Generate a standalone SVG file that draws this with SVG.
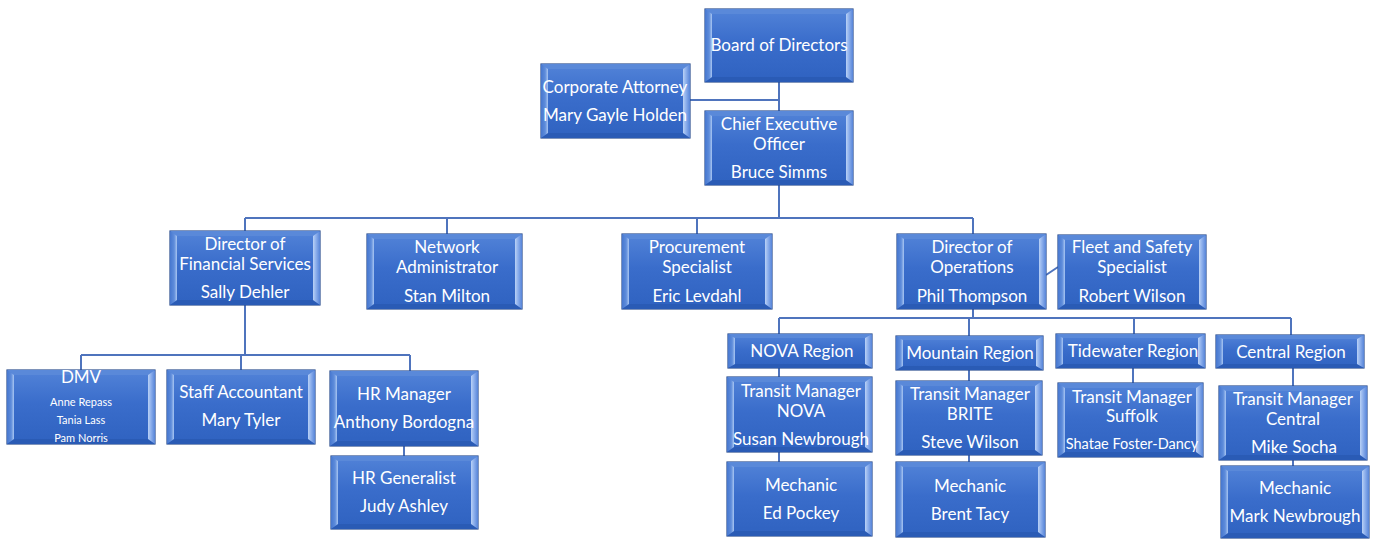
<svg xmlns="http://www.w3.org/2000/svg" width="1379" height="539" viewBox="0 0 1379 539">
<defs>
<linearGradient id="g" x1="0" y1="0" x2="0" y2="1">
<stop offset="0" stop-color="#5283d8"/>
<stop offset="0.45" stop-color="#3a6dcb"/>
<stop offset="1" stop-color="#2f62c0"/>
</linearGradient>
<linearGradient id="gl" x1="0" y1="0" x2="1" y2="0">
<stop offset="0" stop-color="#4677cf"/>
<stop offset="0.6" stop-color="#5f8ddb"/>
<stop offset="1" stop-color="#a9c6f2"/>
</linearGradient>
<linearGradient id="gr" x1="0" y1="0" x2="1" y2="0">
<stop offset="0" stop-color="#b9d1f6"/>
<stop offset="0.5" stop-color="#86aaea"/>
<stop offset="1" stop-color="#5684d8"/>
</linearGradient>
</defs>
<style>
.box{fill:url(#g);stroke:#2a4d8e;stroke-width:1.2}
.bt{fill:#5a89d9}
.bb{fill:#2a5bb5}
.bl{fill:url(#gl)}
.br{fill:url(#gr)}
text{font-family:Lato,"Liberation Sans",sans-serif;font-size:17px;fill:#ffffff;text-anchor:middle}
.s{font-size:11px}
.m{font-size:14.5px}
.c{fill:none;stroke:#4f74bd;stroke-width:2}
</style>
<g id="connectors">
<path class="c" d="M779 82V111M690 100H779"/>
<path class="c" d="M779 185V218M245 218H973M245 218V231M447 218V234M697 218V234M973 218V234"/>
<path class="c" d="M1046 275L1058 267"/>
<path class="c" d="M245 305V355M81 355H410M81 355V370M241 355V370M410 355V371M404 446V456"/>
<path class="c" d="M973 309V318M779 318H1291M779 318V334M969 318V336M1134 318V334M1291 318V335"/>
<path class="c" d="M779 368V377M779 452V462M969 370V381M969 455V462M1133 368V383M1293 368V386M1293 460V466"/>
</g>
<g id="board"><rect class="box" x="705" y="9" width="148" height="73"/><polygon class="bt" points="705,9 853,9 846,14 712,14"/><polygon class="bb" points="705,82 853,82 846,77 712,77"/><polygon class="bl" points="705,9 712,14 712,77 705,82"/><polygon class="br" points="853,9 846,14 846,77 853,82"/><text x="779" y="51">Board of Directors</text></g>
<g id="attorney"><rect class="box" x="541" y="64" width="149" height="74"/><polygon class="bt" points="541,64 690,64 683,69 548,69"/><polygon class="bb" points="541,138 690,138 683,133 548,133"/><polygon class="bl" points="541,64 548,69 548,133 541,138"/><polygon class="br" points="690,64 683,69 683,133 690,138"/><text x="615" y="93">Corporate Attorney</text><text x="615" y="121">Mary Gayle Holden</text></g>
<g id="ceo"><rect class="box" x="705" y="111" width="148" height="74"/><polygon class="bt" points="705,111 853,111 846,116 712,116"/><polygon class="bb" points="705,185 853,185 846,180 712,180"/><polygon class="bl" points="705,111 712,116 712,180 705,185"/><polygon class="br" points="853,111 846,116 846,180 853,185"/><text x="779" y="130">Chief Executive</text><text x="779" y="150">Officer</text><text x="779" y="178">Bruce Simms</text></g>
<g id="dfs"><rect class="box" x="170" y="231" width="150" height="74"/><polygon class="bt" points="170,231 320,231 313,236 177,236"/><polygon class="bb" points="170,305 320,305 313,300 177,300"/><polygon class="bl" points="170,231 177,236 177,300 170,305"/><polygon class="br" points="320,231 313,236 313,300 320,305"/><text x="245" y="250">Director of</text><text x="245" y="270">Financial Services</text><text x="245" y="298">Sally Dehler</text></g>
<g id="network"><rect class="box" x="367" y="234" width="155" height="75"/><polygon class="bt" points="367,234 522,234 515,239 374,239"/><polygon class="bb" points="367,309 522,309 515,304 374,304"/><polygon class="bl" points="367,234 374,239 374,304 367,309"/><polygon class="br" points="522,234 515,239 515,304 522,309"/><text x="447" y="253">Network</text><text x="447" y="273">Administrator</text><text x="447" y="302">Stan Milton</text></g>
<g id="procurement"><rect class="box" x="622" y="234" width="150" height="75"/><polygon class="bt" points="622,234 772,234 765,239 629,239"/><polygon class="bb" points="622,309 772,309 765,304 629,304"/><polygon class="bl" points="622,234 629,239 629,304 622,309"/><polygon class="br" points="772,234 765,239 765,304 772,309"/><text x="697" y="253">Procurement</text><text x="697" y="273">Specialist</text><text x="697" y="302">Eric Levdahl</text></g>
<g id="operations"><rect class="box" x="897" y="234" width="149" height="75"/><polygon class="bt" points="897,234 1046,234 1039,239 904,239"/><polygon class="bb" points="897,309 1046,309 1039,304 904,304"/><polygon class="bl" points="897,234 904,239 904,304 897,309"/><polygon class="br" points="1046,234 1039,239 1039,304 1046,309"/><text x="972" y="253">Director of</text><text x="972" y="273">Operations</text><text x="972" y="302">Phil Thompson</text></g>
<g id="fleet"><rect class="box" x="1058" y="235" width="148" height="74"/><polygon class="bt" points="1058,235 1206,235 1199,240 1065,240"/><polygon class="bb" points="1058,309 1206,309 1199,304 1065,304"/><polygon class="bl" points="1058,235 1065,240 1065,304 1058,309"/><polygon class="br" points="1206,235 1199,240 1199,304 1206,309"/><text x="1132" y="253">Fleet and Safety</text><text x="1132" y="273">Specialist</text><text x="1132" y="302">Robert Wilson</text></g>
<g id="dmv"><rect class="box" x="7" y="370" width="148" height="74"/><polygon class="bt" points="7,370 155,370 148,375 14,375"/><polygon class="bb" points="7,444 155,444 148,439 14,439"/><polygon class="bl" points="7,370 14,375 14,439 7,444"/><polygon class="br" points="155,370 148,375 148,439 155,444"/><text x="81" y="383">DMV</text><text class="s" x="81" y="406">Anne Repass</text><text class="s" x="81" y="424">Tania Lass</text><text class="s" x="81" y="442">Pam Norris</text></g>
<g id="staff"><rect class="box" x="167" y="370" width="148" height="74"/><polygon class="bt" points="167,370 315,370 308,375 174,375"/><polygon class="bb" points="167,444 315,444 308,439 174,439"/><polygon class="bl" points="167,370 174,375 174,439 167,444"/><polygon class="br" points="315,370 308,375 308,439 315,444"/><text x="241" y="398">Staff Accountant</text><text x="241" y="426">Mary Tyler</text></g>
<g id="hrmanager"><rect class="box" x="330" y="371" width="148" height="75"/><polygon class="bt" points="330,371 478,371 471,376 337,376"/><polygon class="bb" points="330,446 478,446 471,441 337,441"/><polygon class="bl" points="330,371 337,376 337,441 330,446"/><polygon class="br" points="478,371 471,376 471,441 478,446"/><text x="404" y="400">HR Manager</text><text x="404" y="428">Anthony Bordogna</text></g>
<g id="hrgeneralist"><rect class="box" x="331" y="456" width="147" height="73"/><polygon class="bt" points="331,456 478,456 471,461 338,461"/><polygon class="bb" points="331,529 478,529 471,524 338,524"/><polygon class="bl" points="331,456 338,461 338,524 331,529"/><polygon class="br" points="478,456 471,461 471,524 478,529"/><text x="404" y="484">HR Generalist</text><text x="404" y="512">Judy Ashley</text></g>
<g id="nova"><rect class="box" x="728" y="334" width="144" height="34"/><polygon class="bt" points="728,334 872,334 865,338 735,338"/><polygon class="bb" points="728,368 872,368 865,364 735,364"/><polygon class="bl" points="728,334 735,338 735,364 728,368"/><polygon class="br" points="872,334 865,338 865,364 872,368"/><text x="802" y="357">NOVA Region</text></g>
<g id="mountain"><rect class="box" x="896" y="336" width="147" height="34"/><polygon class="bt" points="896,336 1043,336 1036,340 903,340"/><polygon class="bb" points="896,370 1043,370 1036,366 903,366"/><polygon class="bl" points="896,336 903,340 903,366 896,370"/><polygon class="br" points="1043,336 1036,340 1036,366 1043,370"/><text x="970" y="359">Mountain Region</text></g>
<g id="tidewater"><rect class="box" x="1056" y="334" width="149" height="34"/><polygon class="bt" points="1056,334 1205,334 1198,338 1063,338"/><polygon class="bb" points="1056,368 1205,368 1198,364 1063,364"/><polygon class="bl" points="1056,334 1063,338 1063,364 1056,368"/><polygon class="br" points="1205,334 1198,338 1198,364 1205,368"/><text x="1133" y="357">Tidewater Region</text></g>
<g id="central"><rect class="box" x="1216" y="335" width="148" height="33"/><polygon class="bt" points="1216,335 1364,335 1357,339 1223,339"/><polygon class="bb" points="1216,368 1364,368 1357,364 1223,364"/><polygon class="bl" points="1216,335 1223,339 1223,364 1216,368"/><polygon class="br" points="1364,335 1357,339 1357,364 1364,368"/><text x="1291" y="358">Central Region</text></g>
<g id="tmnova"><rect class="box" x="727" y="377" width="145" height="75"/><polygon class="bt" points="727,377 872,377 865,382 734,382"/><polygon class="bb" points="727,452 872,452 865,447 734,447"/><polygon class="bl" points="727,377 734,382 734,447 727,452"/><polygon class="br" points="872,377 865,382 865,447 872,452"/><text x="801" y="397">Transit Manager</text><text x="801" y="417">NOVA</text><text x="801" y="445">Susan Newbrough</text></g>
<g id="tmbrite"><rect class="box" x="896" y="381" width="146" height="74"/><polygon class="bt" points="896,381 1042,381 1035,386 903,386"/><polygon class="bb" points="896,455 1042,455 1035,450 903,450"/><polygon class="bl" points="896,381 903,386 903,450 896,455"/><polygon class="br" points="1042,381 1035,386 1035,450 1042,455"/><text x="970" y="400">Transit Manager</text><text x="970" y="420">BRITE</text><text x="970" y="448">Steve Wilson</text></g>
<g id="tmsuffolk"><rect class="box" x="1058" y="383" width="145" height="74"/><polygon class="bt" points="1058,383 1203,383 1196,388 1065,388"/><polygon class="bb" points="1058,457 1203,457 1196,452 1065,452"/><polygon class="bl" points="1058,383 1065,388 1065,452 1058,457"/><polygon class="br" points="1203,383 1196,388 1196,452 1203,457"/><text x="1132" y="403">Transit Manager</text><text x="1132" y="422">Suffolk</text><text class="m" x="1132" y="449">Shatae Foster-Dancy</text></g>
<g id="tmcentral"><rect class="box" x="1219" y="386" width="148" height="74"/><polygon class="bt" points="1219,386 1367,386 1360,391 1226,391"/><polygon class="bb" points="1219,460 1367,460 1360,455 1226,455"/><polygon class="bl" points="1219,386 1226,391 1226,455 1219,460"/><polygon class="br" points="1367,386 1360,391 1360,455 1367,460"/><text x="1293" y="405">Transit Manager</text><text x="1293" y="425">Central</text><text x="1294" y="453">Mike Socha</text></g>
<g id="mechnova"><rect class="box" x="727" y="462" width="145" height="74"/><polygon class="bt" points="727,462 872,462 865,467 734,467"/><polygon class="bb" points="727,536 872,536 865,531 734,531"/><polygon class="bl" points="727,462 734,467 734,531 727,536"/><polygon class="br" points="872,462 865,467 865,531 872,536"/><text x="801" y="491">Mechanic</text><text x="801" y="519">Ed Pockey</text></g>
<g id="mechbrite"><rect class="box" x="896" y="462" width="149" height="75"/><polygon class="bt" points="896,462 1045,462 1038,467 903,467"/><polygon class="bb" points="896,537 1045,537 1038,532 903,532"/><polygon class="bl" points="896,462 903,467 903,532 896,537"/><polygon class="br" points="1045,462 1038,467 1038,532 1045,537"/><text x="970" y="492">Mechanic</text><text x="970" y="520">Brent Tacy</text></g>
<g id="mechcentral"><rect class="box" x="1221" y="466" width="148" height="72"/><polygon class="bt" points="1221,466 1369,466 1362,471 1228,471"/><polygon class="bb" points="1221,538 1369,538 1362,533 1228,533"/><polygon class="bl" points="1221,466 1228,471 1228,533 1221,538"/><polygon class="br" points="1369,466 1362,471 1362,533 1369,538"/><text x="1295" y="494">Mechanic</text><text x="1295" y="522">Mark Newbrough</text></g>
</svg>
